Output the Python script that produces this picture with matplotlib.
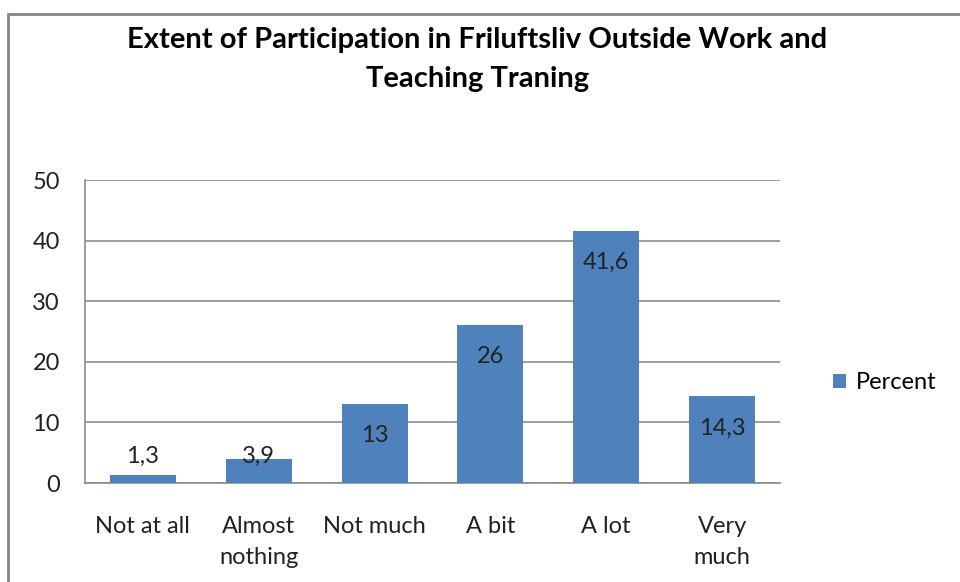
import matplotlib.pyplot as plt
import matplotlib
from matplotlib.patches import Rectangle

categories = ['Not at all', 'Almost\nnothing', 'Not much', 'A bit', 'A lot', 'Very\nmuch']
percent = [1.3, 3.9, 13, 26, 41.6, 14.3]
value_labels = ['1,3', '3,9', '13', '26', '41,6', '14,3']
yticks = [0, 10, 20, 30, 40, 50]

matplotlib.rc('font', family='Lato', size=17)

fig = plt.figure(figsize=(9.6, 5.82), dpi=100, facecolor='w')
ax = fig.add_axes([0.0885, 0.1701, 0.724, 0.5206])

# outer chart border (right and bottom edges fall outside the image)
fig.patches.append(Rectangle((8/960, -0.1), 1.1, 1 - 14/582 + 0.1, transform=fig.transFigure,
                             fill=False, edgecolor='#868686', linewidth=2))

x = range(len(categories))
bars = ax.bar(x, percent, width=0.57, color='#4F81BD', label='Percent', zorder=3)

for i, v in enumerate(percent):
    ax.text(i, max(v - 5.2, 4.4), value_labels[i], ha='center', va='center',
            fontsize=17, color='#222222', zorder=4)

ax.set_xlim(-0.5, len(categories) - 0.5)
ax.set_ylim(0, 50)
ax.set_yticks(yticks)
ax.set_xticks(list(x))
ax.set_xticklabels(categories, linespacing=1.55)
ax.tick_params(axis='both', length=0, colors='#222222')
ax.tick_params(axis='x', pad=24)
ax.tick_params(axis='y', pad=18)
ax.grid(axis='y', color='#8c8c8c', linewidth=1.2, zorder=0)

for s in ['top', 'right']:
    ax.spines[s].set_visible(False)
for s in ['left', 'bottom']:
    ax.spines[s].set_color('#8c8c8c')
    ax.spines[s].set_linewidth(1.2)

fig.text(0.497, 0.898, 'Extent of Participation in Friluftsliv Outside Work and\nTeaching Traning',
         ha='center', va='center', fontsize=21, fontweight='bold', linespacing=1.65)

fig.legend(handles=[bars], loc='center left', bbox_to_anchor=(0.858, 0.342),
           frameon=False, handlelength=0.55, handleheight=0.55, handletextpad=0.4,
           fontsize=17, borderaxespad=0)

fig.savefig('out.png', dpi=100)
